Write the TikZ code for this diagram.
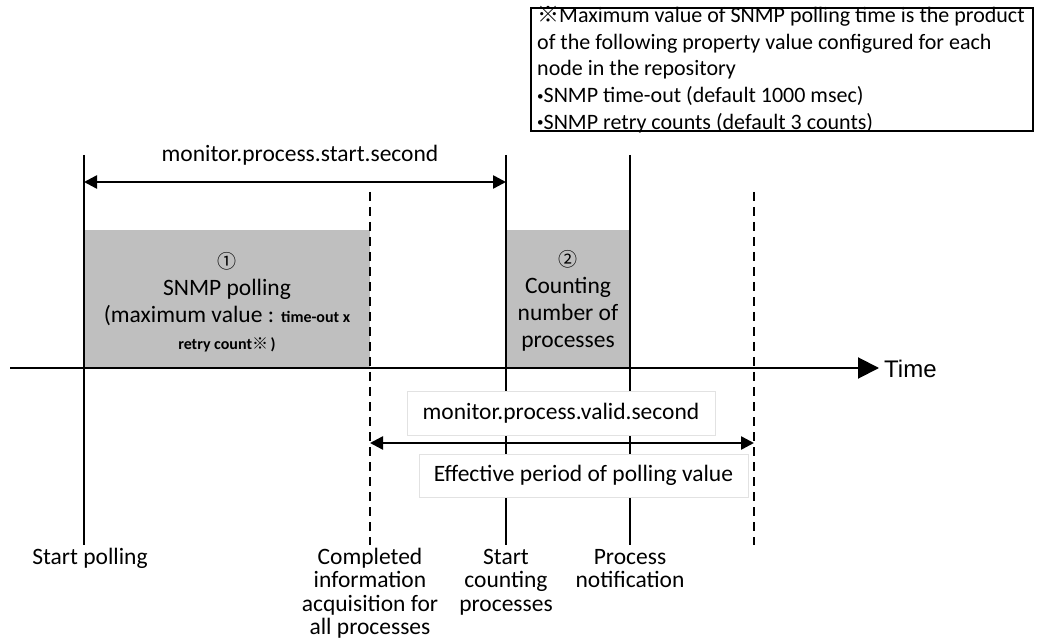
\documentclass[tikz,border=0pt]{standalone}
\usepackage{fontspec}
\setmainfont{Carlito}
\newfontfamily\cjkf{Noto Sans CJK JP}
\newfontfamily\arialf{Liberation Sans}
\usetikzlibrary{arrows.meta}
\definecolor{boxgray}{HTML}{BFBFBF}
\definecolor{framegray}{HTML}{E2E2E2}
\newcommand{\smallbul}{{\fontsize{13}{13}\selectfont\raisebox{2.5pt}{•}}}
\begin{document}
\begin{tikzpicture}[x=1pt,y=-1pt,
  solidline/.style={line width=1.5pt},
  dashline/.style={line width=2pt, dash pattern=on 9pt off 6pt},
  dimarrow/.style={line width=2.5pt, {Triangle[length=13pt,width=13pt]}-{Triangle[length=13pt,width=13pt]}},
  axisarrow/.style={line width=2pt, -{Triangle[length=21pt,width=21pt]}},
  lbl/.style={font=\fontsize{23.5}{23.5}\selectfont, align=center, inner sep=0pt},
  boxtxt/.style={font=\fontsize{23.5}{27}\selectfont, align=center, inner sep=0pt},
  framelbl/.style={font=\fontsize{23.5}{26}\selectfont, draw=framegray, line width=1pt, fill=white, inner sep=0pt}
]
\useasboundingbox (0,0) rectangle (1042,644);

% gray activity boxes
\fill[boxgray] (84,230) rectangle (370,368);
\fill[boxgray] (506,230) rectangle (630,368);

% event coordinates
\coordinate (sp-t) at (84,155);   \coordinate (sp-b) at (84,545);
\coordinate (ca-t) at (370,192);  \coordinate (ca-b) at (370,545);
\coordinate (sc-t) at (506,155);  \coordinate (sc-b) at (506,545);
\coordinate (pn-t) at (630,155);  \coordinate (pn-b) at (630,545);
\coordinate (ve-t) at (754,192);  \coordinate (ve-b) at (754,545);

\draw[solidline] (sp-t) -- (sp-b);
\draw[dashline] (ca-t) -- (ca-b);
\draw[solidline] (sc-t) -- (sc-b);
\draw[solidline] (pn-t) -- (pn-b);
\draw[dashline] (ve-t) -- (ve-b);

% time axis
\coordinate (ax-l) at (10,368);
\coordinate (ax-r) at (879,368);
\draw[axisarrow] (ax-l) -- (ax-r);
\node[font=\arialf\fontsize{24}{24}\selectfont, anchor=west, inner sep=0pt] (time) at (884,369) {Time};

% start second
\coordinate (ss-l) at (84,182);
\coordinate (ss-r) at (506,182);
\draw[dimarrow] (ss-l) -- (ss-r);
\node[lbl] (startsec) at (300,155) {monitor.process.start.second};

% box texts
\node[boxtxt] (snmp) at (227,302) {{\cjkf\fontsize{19}{19}\selectfont ①}\\SNMP polling\\(maximum value : {\bfseries\fontsize{16}{16}\selectfont time-out x}\\{\bfseries\fontsize{16}{16}\selectfont retry count{\cjkf ※}\,)}};
\node[boxtxt] (count) at (568,301) {{\cjkf\fontsize{19}{19}\selectfont ②}\\Counting\\number of\\processes};

% valid second
\coordinate (vs-l) at (370,443);
\coordinate (vs-r) at (754,443);
\draw[dimarrow] (vs-l) -- (vs-r);
\node[framelbl, minimum width=308pt, minimum height=43pt] (validsec) at (561,413.5) {monitor.process.valid.second};
\node[framelbl, minimum width=329pt, minimum height=43pt] (effective) at (583.5,475.5) {Effective period of polling value};

% bottom labels (anchored at the baseline of their last line)
\node[lbl, anchor=base] (l-sp) at (90,564) {Start polling};
\node[lbl, anchor=base] (l-ca) at (370,634.5) {Completed\\information\\acquisition for\\all processes};
\node[lbl, anchor=base] (l-sc) at (506,611) {Start\\counting\\processes};
\node[lbl, anchor=base] (l-pn) at (630,587.5) {Process\\notification};

% note box
\node[draw, line width=1.5pt, minimum width=502pt, minimum height=123pt, inner sep=0pt] (notebox) at (782,69.5) {};
\node[font=\fontsize{22}{26.75}\selectfont, align=left, anchor=north west, inner sep=0pt] (notetext) at (537,6)
 {{\cjkf ※}Maximum value of SNMP polling time is the product\\of the following property value configured for each\\node in the repository\\\smallbul SNMP time-out (default 1000 msec)\\\smallbul SNMP retry counts (default 3 counts)};
\end{tikzpicture}
\end{document}
